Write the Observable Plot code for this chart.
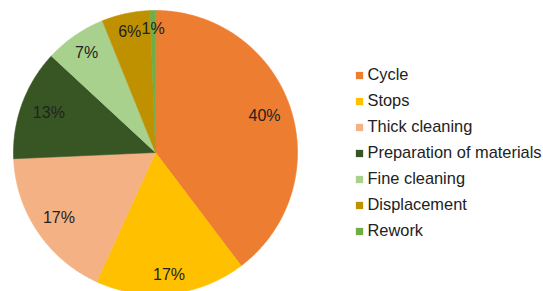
<!DOCTYPE html>
<html>
<head>
<meta charset="utf-8">
<script src="https://cdn.jsdelivr.net/npm/d3@7"></script>
<script src="https://cdn.jsdelivr.net/npm/@observablehq/plot@0.6"></script>
<style>
  html, body { margin: 0; padding: 0; background: #fff; }
  #wrap { position: relative; width: 543px; height: 291px; overflow: hidden; }
  #wrap svg { position: absolute; left: 0; top: 0; font-family: "Liberation Sans", Arial, sans-serif; }
</style>
</head>
<body>
<div id="wrap"></div>
<script>
const categories = ["Cycle", "Stops", "Thick cleaning", "Preparation of materials", "Fine cleaning", "Displacement", "Rework"];
const values = [39.7, 17.1, 17.5, 12.6, 7.0, 5.5, 0.6];
const labels = ["40%", "17%", "17%", "13%", "7%", "6%", "1%"];
const colors = ["#ED7D31", "#FFC000", "#F4B183", "#375623", "#A9D18E", "#BF9000", "#70AD47"];

const rows = categories.map((name, i) => ({name, value: values[i], label: labels[i]}));
const arcs = d3.pie().sort(null).value(d => d.value)(rows);

// slice outlines in unit coordinates (center 0,0, radius 1)
const slicePts = [];
arcs.forEach(a => {
  const n = Math.max(4, Math.ceil((a.endAngle - a.startAngle) / 0.01));
  slicePts.push({name: a.data.name, x: 0, y: 0});
  for (let k = 0; k <= n; k++) {
    const t = a.startAngle + (a.endAngle - a.startAngle) * k / n;
    slicePts.push({name: a.data.name, x: Math.sin(t), y: Math.cos(t)});
  }
});
// label placement (layout only): fraction of radius per slice index
const labelRadius = [0.81, 0.87, 0.82, 0.80, 0.855, 0.87, 0.87];
const labelPts = arcs.map((a, i) => {
  const t = (a.startAngle + a.endAngle) / 2;
  const r = labelRadius[i];
  return {label: a.data.label, x: r * Math.sin(t), y: r * Math.cos(t)};
});

const color = {domain: categories, range: colors};

const pie = Plot.plot({
  width: 543, height: 291,
  margin: 0,
  x: {domain: [-1, 1], range: [13, 297], axis: null},
  y: {domain: [-1, 1], range: [294, 10], axis: null},
  color,
  marks: [
    Plot.line(slicePts, {x: "x", y: "y", z: "name", fill: "name", stroke: "name", strokeWidth: 0.6, curve: "linear-closed"}),
    Plot.text(labelPts, {x: "x", y: "y", text: "label", fill: "#222", fontSize: 16})
  ]
});

const legend = Plot.plot({
  width: 543, height: 291,
  marginLeft: 359, marginRight: 0, marginTop: 0, marginBottom: 0,
  x: {axis: null},
  y: {type: "point", domain: categories, range: [72.7, 232.3], padding: 0, axis: null},
  color,
  marks: [
    Plot.dot(categories, {y: d => d, fill: d => d, symbol: "square", r: 4.1, frameAnchor: "left"}),
    Plot.text(categories, {y: d => d, text: d => d, frameAnchor: "left", textAnchor: "start", dx: 8, dy: -1, fill: "#222", fontSize: 16.4})
  ]
});
legend.style.background = "transparent";

const wrap = document.getElementById("wrap");
wrap.appendChild(pie);
wrap.appendChild(legend);
</script>
</body>
</html>
